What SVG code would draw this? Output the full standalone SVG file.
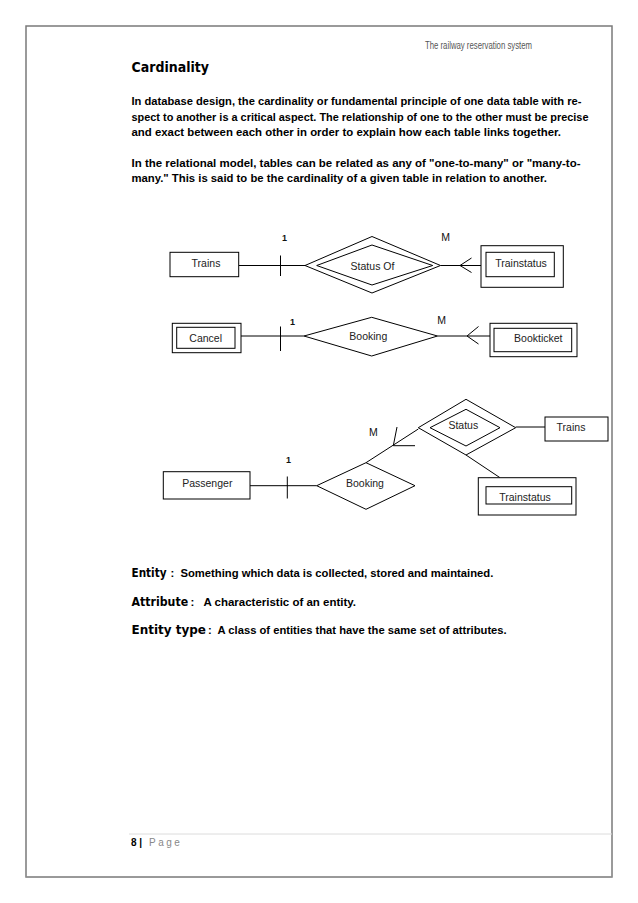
<svg xmlns="http://www.w3.org/2000/svg" width="638" height="903" viewBox="0 0 638 903">
<style>
.body{font-family:"Liberation Sans",Arial,sans-serif;font-weight:bold;font-size:11.5px;fill:#000}
.head{font-family:"DejaVu Sans","Liberation Sans",sans-serif;font-weight:bold;fill:#000}
.lbl{font-family:"Liberation Sans",Arial,sans-serif;font-size:10.5px;fill:#222;text-anchor:middle}
.card{font-family:"Liberation Sans",Arial,sans-serif;font-size:10.5px;fill:#111;text-anchor:middle}
.one{font-family:"Liberation Sans",Arial,sans-serif;font-size:9px;font-weight:bold;fill:#111;text-anchor:middle}
.shape{fill:#fff;stroke:#000;stroke-width:1}
.ln{fill:none;stroke:#000;stroke-width:1}
</style>
<rect x="0" y="0" width="638" height="903" fill="#fff"/>
<rect x="26" y="26" width="586" height="851" fill="none" stroke="#7a7a7a" stroke-width="1.5"/>
<line x1="26" y1="877.3" x2="612" y2="877.3" stroke="#999" stroke-width="1.5"/>

<text x="425" y="49" font-family="Liberation Sans Narrow,Liberation Sans,sans-serif" font-size="10.5" fill="#555" textLength="107" lengthAdjust="spacingAndGlyphs">The railway reservation system</text>

<text class="head" x="131.5" y="72" font-size="14" textLength="77.5" lengthAdjust="spacingAndGlyphs">Cardinality</text>

<text class="body" x="131.5" y="105" textLength="450" lengthAdjust="spacingAndGlyphs">In database design, the cardinality or fundamental principle of one data table with re-</text>
<text class="body" x="131.5" y="120.5" textLength="457" lengthAdjust="spacingAndGlyphs">spect to another is a critical aspect. The relationship of one to the other must be precise</text>
<text class="body" x="131.5" y="136" textLength="429.5" lengthAdjust="spacingAndGlyphs">and exact between each other in order to explain how each table links together.</text>
<text class="body" x="131.5" y="166.5" textLength="449" lengthAdjust="spacingAndGlyphs">In the relational model, tables can be related as any of "one-to-many" or "many-to-</text>
<text class="body" x="131.5" y="182" textLength="415.5" lengthAdjust="spacingAndGlyphs">many." This is said to be the cardinality of a given table in relation to another.</text>

<g id="connectors">
  <line class="ln" x1="239" y1="265.5" x2="305" y2="265.5"/>
  <line class="ln" x1="280.5" y1="255.5" x2="280.5" y2="276"/>
  <line class="ln" x1="440.5" y1="265.5" x2="481" y2="265.5"/>
  <polyline class="ln" points="471.5,258 460,265.5 471.5,272.5"/>
  <line class="ln" x1="241" y1="336" x2="304" y2="336"/>
  <line class="ln" x1="280.5" y1="326.5" x2="280.5" y2="351"/>
  <line class="ln" x1="437.5" y1="336" x2="490" y2="336"/>
  <polyline class="ln" points="478.5,326.5 467,336 478.5,344"/>
  <line class="ln" x1="250" y1="485.7" x2="316.7" y2="485.7"/>
  <line class="ln" x1="287.3" y1="476.5" x2="287.3" y2="498.5"/>
  <line class="ln" x1="366" y1="462.7" x2="418.3" y2="429"/>
  <polyline class="ln" points="397,427 393.3,445.7 415,445.7"/>
  <line class="ln" x1="515.7" y1="427" x2="545" y2="427"/>
  <line class="ln" x1="466" y1="455" x2="500" y2="477.7"/>
</g>

<g id="cards">
  <text class="one" x="284.5" y="240.5">1</text>
  <text class="card" x="445.7" y="241">M</text>
  <text class="one" x="292.5" y="324.5">1</text>
  <text class="card" x="441.7" y="324">M</text>
  <text class="one" x="288.5" y="462.5">1</text>
  <text class="card" x="373.3" y="436">M</text>
</g>

<g id="trains1">
  <rect class="shape" x="170" y="252.3" width="68.7" height="24.4"/>
  <text class="lbl" x="206" y="267">Trains</text>
</g>
<g id="statusof">
  <polygon class="shape" points="305,265.5 372,236.5 440.5,265.5 372,293"/>
  <polygon class="shape" points="316.7,265.5 372,245 432.7,265.5 372,285"/>
  <text class="lbl" x="372.5" y="270" font-size="11">Status Of</text>
</g>
<g id="trainstatus1">
  <rect class="shape" x="481" y="245.7" width="82.3" height="41.6"/>
  <rect class="shape" x="486" y="252.3" width="68.3" height="24.4"/>
  <text class="lbl" x="521" y="266.7">Trainstatus</text>
</g>

<g id="cancel">
  <rect class="shape" x="172.3" y="323.3" width="68.7" height="29.4"/>
  <rect class="shape" x="176.7" y="327.3" width="58.3" height="21"/>
  <text class="lbl" x="205.7" y="342.3">Cancel</text>
</g>
<g id="booking1">
  <polygon class="shape" points="304,336 371.7,317.3 437.5,336 371.7,356"/>
  <text class="lbl" x="368.3" y="340">Booking</text>
</g>
<g id="bookticket">
  <rect class="shape" x="490" y="323.3" width="87" height="33.4"/>
  <rect class="shape" x="494" y="328.3" width="77.7" height="23.4"/>
  <text class="lbl" x="538.3" y="342.3">Bookticket</text>
</g>

<g id="passenger">
  <rect class="shape" x="163.3" y="471.7" width="86.7" height="27.3"/>
  <text class="lbl" x="207.3" y="486.7">Passenger</text>
</g>
<g id="booking2">
  <polygon class="shape" points="316.7,485.7 366,462.7 415,485.7 366,509.3"/>
  <text class="lbl" x="365" y="486.7">Booking</text>
</g>
<g id="status">
  <polygon class="shape" points="418.3,427.7 466,399.3 515.7,427.7 466,455"/>
  <polygon class="shape" points="430,427.7 466,409.3 500,427.7 466,446"/>
  <text class="lbl" x="463.3" y="428.7" font-size="6.5">Status</text>
</g>
<g id="trains2">
  <rect class="shape" x="545" y="417" width="63" height="24"/>
  <text class="lbl" x="571" y="430.5">Trains</text>
</g>
<g id="trainstatus2">
  <rect class="shape" x="478.3" y="477.7" width="97.7" height="37.3"/>
  <rect class="shape" x="486" y="486.7" width="85.7" height="17.3"/>
  <text class="lbl" x="525" y="500.7">Trainstatus</text>
</g>

<text class="head" x="131.5" y="577" font-size="12" textLength="35" lengthAdjust="spacingAndGlyphs">Entity</text>
<text class="body" x="170.5" y="577" font-size="11" xml:space="preserve" textLength="322.8" lengthAdjust="spacingAndGlyphs">:  Something which data is collected, stored and maintained.</text>

<text class="head" x="131.5" y="606" font-size="12" textLength="56.6" lengthAdjust="spacingAndGlyphs">Attribute</text>
<text class="body" x="190.5" y="606" font-size="11" xml:space="preserve" textLength="165.5" lengthAdjust="spacingAndGlyphs">:   A characteristic of an entity.</text>

<text class="head" x="131.5" y="633.5" font-size="12" textLength="74.5" lengthAdjust="spacingAndGlyphs">Entity type</text>
<text class="body" x="208" y="633.5" font-size="11" xml:space="preserve" textLength="298.7" lengthAdjust="spacingAndGlyphs">:  A class of entities that have the same set of attributes.</text>

<line x1="129" y1="834" x2="612" y2="834" stroke="#dcdcdc" stroke-width="1"/>
<text x="131" y="846" font-family="Liberation Sans,Arial,sans-serif" font-size="10" font-weight="bold" fill="#000">8 |</text>
<text x="149" y="846" font-family="Liberation Sans,Arial,sans-serif" font-size="10" fill="#888" letter-spacing="2.5">Page</text>
</svg>
